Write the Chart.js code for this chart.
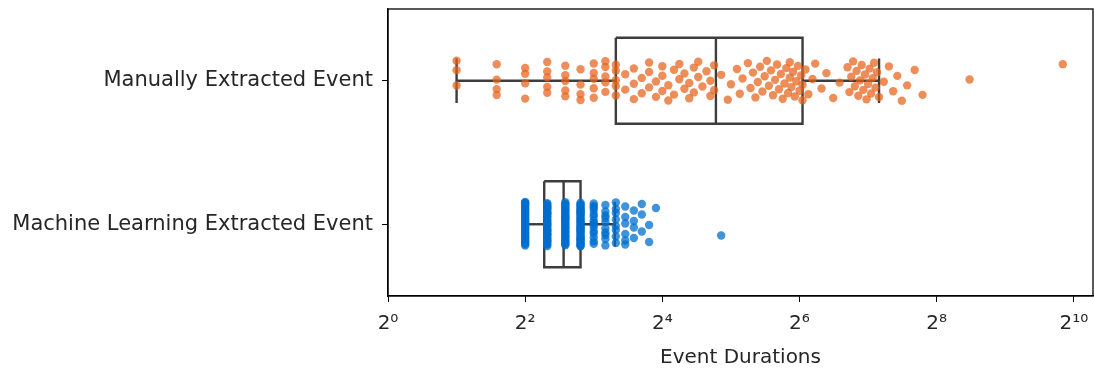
<!DOCTYPE html>
<html lang="en">
<head>
<meta charset="utf-8">
<title>Event Durations</title>
<script src="https://cdn.jsdelivr.net/npm/chart.js"></script>
<style>
  body { margin: 0; background: #fff; }
  #chart { display: block; }
</style>
<script type="text/javascript">
// categories (top to bottom)
const categories = ["Manually Extracted Event", "Machine Learning Extracted Event"];

// manually extracted durations
const manualDurations = [
  2, 2, 2, 3, 3, 3, 3, 4, 4, 4, 4, 5, 5, 5, 5, 5, 6, 6, 6, 6, 6, 7, 7, 7, 7,
  8, 8, 8, 8, 8, 9, 9, 9, 9, 9, 10, 10, 10, 10, 10,
  11, 11, 12, 12, 12, 13, 13, 14, 14, 14, 15, 15, 16, 16, 16, 17, 17, 18, 18,
  19, 19, 20, 20, 21, 21, 22, 22, 23, 23, 24, 25, 26, 26, 27, 27,
  29, 31, 32, 34, 35, 36, 38, 39, 40, 41, 42, 43, 44, 45, 46, 47, 48, 49, 50,
  51, 52, 53, 54, 55, 56, 57, 58, 58, 59, 60, 61, 62, 63, 64, 65, 66, 66,
  68, 70, 73, 75, 80, 84, 90, 96, 104, 106, 108, 110, 112, 114, 116, 118, 120,
  122, 124, 126, 128, 130, 132, 134, 136, 138, 140, 143,
  150, 158, 165, 172, 180, 190, 205, 222, 357, 916
];

// machine learning durations: distinct values and how many events share each
const mlValues = [4, 5, 6, 7, 8, 9, 10, 11, 12, 13, 14, 15, 29];
const mlCounts = [35, 40, 35, 38, 15, 10, 8, 6, 4, 3, 2, 1, 1];

// box statistics: [whisker low, Q1, median, Q3, whisker high]
const manualBox = [2, 10, 27.5, 66, 143];
const mlBox = [4, 4.85, 5.9, 7, 9.9];

// x ticks
const xTickValues = [1, 4, 16, 64, 256, 1024];
const xTickLabels = ["2\u2070", "2\u00b2", "2\u2074", "2\u2076", "2\u2078", "2\u00b9\u2070"];

const orange = "rgba(230, 98, 26, 0.72)";
const blue = "rgba(0, 110, 204, 0.75)";
const boxColor = "#3d3d3d";
const textColor = "#262626";
const fontFamily = "'DejaVu Sans', sans-serif";

// strip plot: spread points of the same category with a fixed low-discrepancy jitter
function stripPoints(values, center, spread) {
  return values.map((v, i) => ({ x: v, y: center + (((i * 0.618034) % 1) - 0.5) * 2 * spread }));
}

function boxDatasets(stats, center) {
  const [lo, q1, med, q3, hi] = stats;
  const h = 0.3, c = 0.155;
  const segs = [
    [[q1, center - h], [q3, center - h], [q3, center + h], [q1, center + h], [q1, center - h]],
    [[med, center - h], [med, center + h]],
    [[lo, center], [q1, center]],
    [[q3, center], [hi, center]],
    [[lo, center - c], [lo, center + c]],
    [[hi, center - c], [hi, center + c]]
  ];
  return segs.map(s => ({
    type: "scatter",
    data: s.map(p => ({ x: p[0], y: p[1] })),
    showLine: true,
    borderColor: boxColor,
    borderWidth: 2.4,
    pointRadius: 0,
    fill: false,
    order: 2
  }));
}

const frame = {
  id: "frame",
  afterDatasetsDraw(chart) {
    const { ctx, chartArea: a } = chart;
    ctx.save();
    ctx.strokeStyle = "#000";
    ctx.lineWidth = 1.3;
    ctx.strokeRect(a.left, a.top, a.right - a.left, a.bottom - a.top);
    ctx.restore();
  }
};

window.onload = function () {
  const mlList = [];
  mlValues.forEach((v, k) => { for (let n = 0; n < mlCounts[k]; n++) mlList.push(v); });

  const datasets = [
    {
      type: "scatter",
      data: stripPoints(manualDurations, 0, 0.14),
      backgroundColor: orange,
      borderWidth: 0,
      pointRadius: 4.2,
      order: 0
    },
    {
      type: "scatter",
      data: stripPoints(mlList, 1, 0.155),
      backgroundColor: blue,
      borderWidth: 0,
      pointRadius: 4.2,
      order: 0
    }
  ].concat(boxDatasets(manualBox, 0), boxDatasets(mlBox, 1));

  new Chart(document.getElementById("chart"), {
    type: "scatter",
    data: { datasets },
    plugins: [frame],
    options: {
      responsive: false,
      animation: false,
      devicePixelRatio: 1,
      layout: { autoPadding: false, padding: { top: 9, right: 1, left: 0, bottom: 0 } },
      plugins: { legend: { display: false }, tooltip: { enabled: false } },
      scales: {
        x: {
          type: "logarithmic",
          min: 1,
          max: 1243,
          afterBuildTicks: s => { s.ticks = xTickValues.map(v => ({ value: v })); },
          afterFit: s => { s.height = 76; s.paddingLeft = 0; s.paddingRight = 0; },
          grid: { drawOnChartArea: false, drawTicks: true, tickLength: 6, color: "#000" },
          border: { display: true, color: "#000", width: 1.3 },
          ticks: {
            autoSkip: false,
            maxRotation: 0,
            padding: 10,
            color: textColor,
            font: { family: fontFamily, size: 20 },
            callback: v => xTickLabels[xTickValues.indexOf(v)]
          },
          title: {
            display: true,
            text: "Event Durations",
            color: textColor,
            font: { family: fontFamily, size: 20 },
            padding: { top: 0, bottom: 2 }
          }
        },
        y: {
          type: "linear",
          min: -0.5,
          max: 1.5,
          reverse: true,
          afterBuildTicks: s => { s.ticks = categories.map((c, i) => ({ value: i })); },
          afterFit: s => { s.width = 388; s.paddingTop = 0; s.paddingBottom = 0; },
          grid: { drawOnChartArea: false, drawTicks: true, tickLength: 6, color: "#000" },
          border: { display: true, color: "#000", width: 1.3 },
          ticks: {
            padding: 9,
            color: textColor,
            font: { family: fontFamily, size: 21 },
            callback: v => categories[v]
          }
        }
      }
    }
  });
};
</script>
</head>
<body>
  <canvas id="chart" width="1094" height="372"></canvas>
</body>
</html>
